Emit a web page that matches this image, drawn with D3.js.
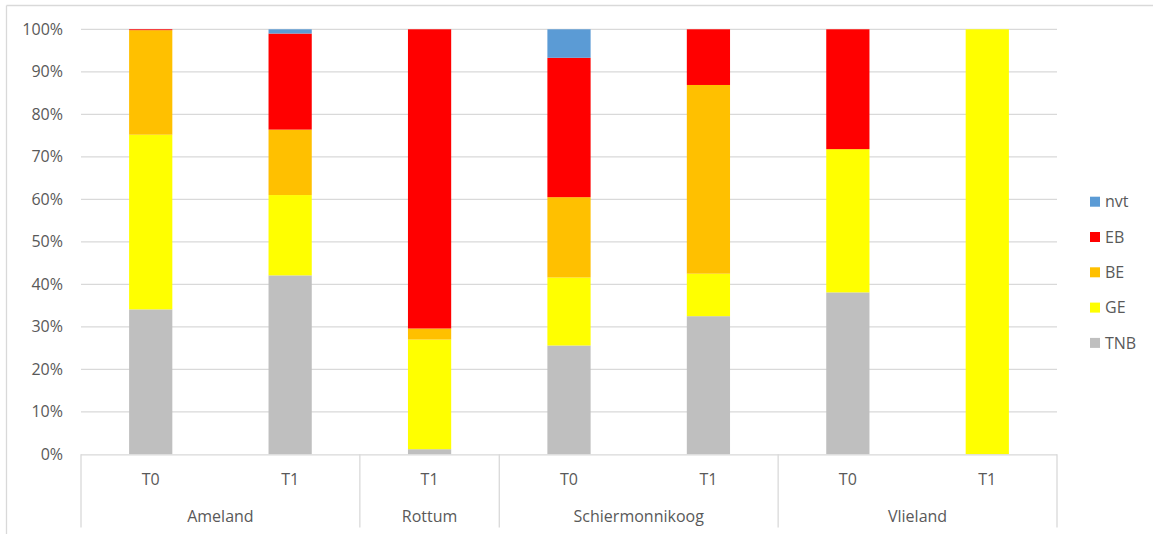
<!DOCTYPE html>
<html><head><meta charset="utf-8">
<script src="https://cdn.jsdelivr.net/npm/d3@7"></script>
<style>
html,body{margin:0;padding:0;background:#fff;}
svg{display:block;font-family:"Open Sans",sans-serif;}
</style></head>
<body>
<svg id="chart" width="1153" height="534"></svg>
<script>
const periods = ["T0","T1","T1","T0","T1","T0","T1"];
const islands = ["Ameland","Ameland","Rottum","Schiermonnikoog","Schiermonnikoog","Vlieland","Vlieland"];
const seriesNames = ["TNB","GE","BE","EB","nvt"];
const TNB = [34.1, 42.1, 1.2, 25.6, 32.5, 38.1, 0];
const GE  = [41.1, 18.9, 25.8, 16.0, 10.0, 33.7, 100];
const BE  = [24.6, 15.4, 2.6, 18.9, 44.4, 0, 0];
const EB  = [0.2, 22.6, 70.4, 32.8, 13.1, 28.2, 0];
const nvt = [0, 1.0, 0, 6.7, 0, 0, 0];
const yTicks = [0,10,20,30,40,50,60,70,80,90,100];
const colors = {TNB:"#BFBFBF", GE:"#FFFF00", BE:"#FFC000", EB:"#FF0000", nvt:"#5B9BD5"};

(function(){
const seriesVals = {TNB, GE, BE, EB, nvt};
const rows = periods.map((p,i)=>{
  const r = {idx:i, period:p, island:islands[i]};
  seriesNames.forEach(s=>r[s]=seriesVals[s][i]);
  return r;
});

const svg = d3.select("#chart");
const W = 1153, H = 534;
const pL = 81, pR = 1057, pT = 29.3, pB = 454.3, catBottom = 527.5;
const textColor = "#595959", gridColor = "#D9D9D9";
const fs = 16;

// outer border (left & top visible)
svg.append("line").attr("x1",6.5).attr("x2",6.5).attr("y1",5.5).attr("y2",H).attr("stroke",gridColor).attr("stroke-width",1.3);
svg.append("line").attr("x1",6.5).attr("x2",W).attr("y1",5.5).attr("y2",5.5).attr("stroke",gridColor).attr("stroke-width",1.3);

const x = d3.scaleBand().domain(d3.range(rows.length)).range([pL,pR]).paddingInner(0.69).paddingOuter(0.345);
const y = d3.scaleLinear().domain([0,100]).range([pB, pT]);

// gridlines
svg.append("g").selectAll("line").data(yTicks.filter(t=>t>0)).join("line")
  .attr("x1",pL).attr("x2",pR)
  .attr("y1",d=>y(d)).attr("y2",d=>y(d))
  .attr("stroke",gridColor).attr("stroke-width",1.3);

// y axis labels
svg.append("g").selectAll("text").data(yTicks).join("text")
  .attr("x",63).attr("y",d=>y(d)).attr("dy","0.35em")
  .attr("text-anchor","end").attr("fill",textColor).attr("font-size",fs)
  .text(d=>d+"%");

// bars
const stacked = d3.stack().keys(seriesNames)(rows);
svg.append("g").selectAll("g").data(stacked).join("g")
  .attr("fill",d=>colors[d.key])
  .selectAll("rect").data(d=>d).join("rect")
  .attr("x",d=>x(d.data.idx)).attr("width",x.bandwidth())
  .attr("y",d=>y(d[1])).attr("height",d=>Math.max(0,y(d[0])-y(d[1])));

// category axis
svg.append("line").attr("x1",pL).attr("x2",pR).attr("y1",pB+0.5).attr("y2",pB+0.5)
  .attr("stroke",gridColor).attr("stroke-width",1.3);

const step = x.step();
const bandStart = i => pL + i*step;
const groupList = [];
islands.forEach((g,i)=>{
  if(!groupList.length || groupList[groupList.length-1].name!==g) groupList.push({name:g,start:i,end:i});
  else groupList[groupList.length-1].end=i;
});
const bounds = [0, ...groupList.map(g=>g.end+1)];
svg.append("g").selectAll("line").data(bounds).join("line")
  .attr("x1",d=>bandStart(d)).attr("x2",d=>bandStart(d))
  .attr("y1",pB).attr("y2",catBottom)
  .attr("stroke",gridColor).attr("stroke-width",1.3);

// period labels
svg.append("g").selectAll("text").data(rows).join("text")
  .attr("x",d=>x(d.idx)+x.bandwidth()/2).attr("y",479.5).attr("dy","0.35em")
  .attr("text-anchor","middle").attr("fill",textColor).attr("font-size",fs)
  .text(d=>d.period);

// island labels
svg.append("g").selectAll("text").data(groupList).join("text")
  .attr("x",d=>(bandStart(d.start)+bandStart(d.end+1))/2).attr("y",516).attr("dy","0.35em")
  .attr("text-anchor","middle").attr("fill",textColor).attr("font-size",fs)
  .text(d=>d.name);

// legend
const legendOrder = seriesNames.slice().reverse();
const lg = svg.append("g").selectAll("g").data(legendOrder).join("g")
  .attr("transform",(d,i)=>`translate(1090,${201.7+i*35.3})`);
lg.append("rect").attr("x",0).attr("y",-5).attr("width",10).attr("height",10).attr("fill",d=>colors[d]);
lg.append("text").attr("x",15).attr("y",0).attr("dy","0.35em").attr("fill",textColor).attr("font-size",fs).text(d=>d);
})();
</script>
</body></html>
